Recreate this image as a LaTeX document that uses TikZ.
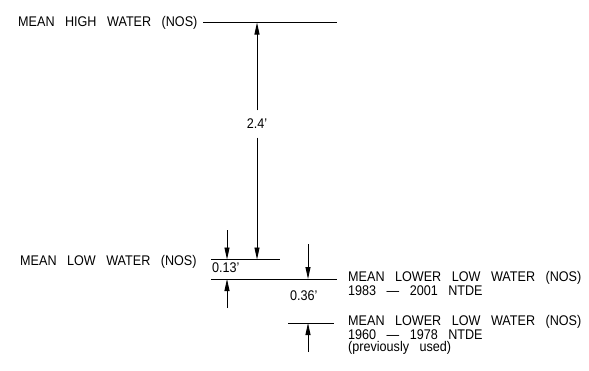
\documentclass[tikz,border=0pt]{standalone}
\usepackage{fontspec}
\setmainfont{Liberation Sans}[FakeStretch=0.9,WordSpace=3.0]
\usetikzlibrary{arrows.meta}
\begin{document}
\begin{tikzpicture}[x=1pt,y=-1pt,
  lbl/.style={font=\fontsize{14pt}{12pt}\selectfont,inner sep=0pt,anchor=base west,align=left},
  dimtxt/.style={font=\fontsize{14pt}{12pt}\selectfont,inner sep=0pt},
  level/.style={line width=0.9pt},
  dim/.style={line width=0.9pt,-{Triangle[length=12pt,width=5pt]}}]
\useasboundingbox (0,0) rectangle (589,370);
% levels
\coordinate (mhwL) at (203,22.5); \coordinate (mhwR) at (337,22.5);
\coordinate (mlwL) at (211,259.5); \coordinate (mlwR) at (280,259.5);
\coordinate (mllwAL) at (211,279); \coordinate (mllwAR) at (337,279);
\coordinate (mllwBL) at (288,323); \coordinate (mllwBR) at (334,323);
\draw[level] (mhwL) -- (mhwR);
\draw[level] (mlwL) -- (mlwR);
\draw[level] (mllwAL) -- (mllwAR);
\draw[level] (mllwBL) -- (mllwBR);
% texts (base anchor = baseline of last line)
\node[lbl] (tmhw) at (18,26) {MEAN HIGH WATER (NOS)};
\node[lbl] (tmlw) at (20,265) {MEAN LOW WATER (NOS)};
\node[lbl] (tmllwA) at (348,295) {MEAN LOWER LOW WATER (NOS)\\1983 --- 2001 NTDE};
\node[lbl] (tmllwB) at (348,351) {MEAN LOWER LOW WATER (NOS)\\1960 --- 1978 NTDE\\(previously used)};
% 2.4' dimension
\coordinate (a24t) at (257,22.5); \coordinate (a24b) at (257,259.5);
\node[dimtxt,minimum height=27pt] (d24) at (257,124) {2.4'};
\draw[dim] (d24.north) -- (a24t);
\draw[dim] (d24.south) -- (a24b);
% 0.13' dimension
\node[lbl] (d13) at (212,272) {0.13'};
\coordinate (a13s) at (227,230); \coordinate (a13t) at (227,259.5);
\coordinate (a13s2) at (227,308); \coordinate (a13t2) at (227,279);
\draw[dim] (a13s) -- (a13t);
\draw[dim] (a13s2) -- (a13t2);
% 0.36' dimension
\node[lbl] (d36) at (290,300) {0.36'};
\coordinate (a36s) at (308,244); \coordinate (a36t) at (308,279);
\coordinate (a36s2) at (308,352); \coordinate (a36t2) at (308,323);
\draw[dim] (a36s) -- (a36t);
\draw[dim] (a36s2) -- (a36t2);
\end{tikzpicture}
\end{document}
